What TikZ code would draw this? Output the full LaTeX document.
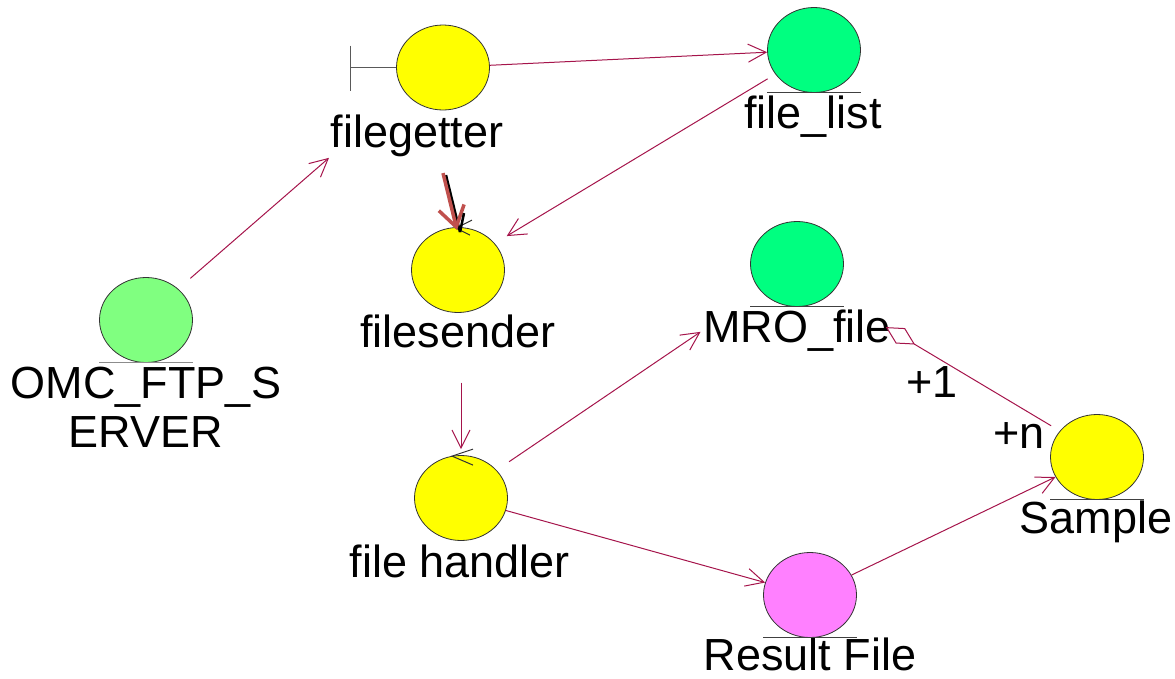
\documentclass[tikz,border=0pt]{standalone}
\usepackage{fontspec}
\setmainfont{Liberation Sans}
\usetikzlibrary{shapes.geometric,arrows.meta,calc}
\definecolor{conn}{RGB}{165,20,75}
\definecolor{yel}{RGB}{255,255,0}
\definecolor{ent}{RGB}{0,255,128}
\definecolor{srv}{RGB}{128,255,128}
\definecolor{res}{RGB}{255,128,255}
\definecolor{thick}{RGB}{192,80,77}
\tikzset{
  obj/.style={ellipse, draw=black!80, line width=0.8pt, minimum width=93pt, minimum height=85pt, inner sep=0pt},
  lbl/.style={anchor=base, inner sep=0pt, font=\fontsize{45}{49}\selectfont},
  arr/.style={draw=conn, line width=1pt, -{Straight Barb[length=18pt,width=18pt]}},
  uline/.style={draw=black!75, line width=1pt},
  ctrl/.style={draw=black!80, line width=1pt},
}
\begin{document}
\begin{tikzpicture}[x=1pt,y=-1pt]
\useasboundingbox (0,0) rectangle (1175,678);
% objects
\node[obj, fill=yel] (fg) at (443,67.5) {};
\node[obj, fill=ent] (fl) at (814,50) {};
\node[obj, fill=srv] (omc) at (146,320) {};
\node[obj, fill=yel] (fs) at (458,270) {};
\node[obj, fill=yel] (fh) at (461,498) {};
\node[obj, fill=ent] (mro) at (797,264) {};
\node[obj, fill=yel] (sa) at (1097,457) {};
\node[obj, fill=res] (rf) at (810,595) {};
% labels
\node[lbl] (fgl) at (417,147) {filegetter};
\node[lbl] (fll) at (813,128) {file\_list};
\node[lbl] (omcla) at (146,398) {OMC\_FTP\_S};
\node[lbl] (omclb) at (146,447) {ERVER};
\node[lbl] (fsl) at (458,347) {filesender};
\node[lbl] (fhl) at (460,577) {file handler};
\node[lbl] (mrol) at (797,342) {MRO\_file};
\node[lbl] (sal) at (1096,533) {Sample};
\node[lbl] (rfl) at (810,670) {Result File};
\node[lbl] (m1) at (932,397) {+1};
\node[lbl] (mn) at (1019,448) {+n};
% boundary icon
\draw[draw=black!65, line width=1pt] (fg.west) -- ++(-46,0) coordinate (bl);
\draw[draw=black!65, line width=1pt] ($(bl)+(0,-22)$) -- ($(bl)+(0,23)$);
% entity underlines
\foreach \n in {fl,mro,sa,rf}{
  \draw[uline] (\n.west |- \n.south) -- (\n.east |- \n.south);
}
\draw[draw=black!45, line width=1pt] (omc.west |- omc.south) -- (omc.east |- omc.south);
% control icons
\draw[ctrl] ($(fs.north)+(14,-7)$) -- ($(fs.north)+(-2,1)$) -- ($(fs.north)+(12,8)$);
\draw[ctrl] ($(fh.north)+(12,-6)$) -- ($(fh.north)+(-9,1)$) -- ($(fh.north)+(12,10)$);
% connectors
\draw[arr, shorten <=16pt, shorten >=2pt] (omc.44) -- (fgl.south west);
\draw[arr] (fg) -- (fl);
\draw[arr, shorten <=9pt, shorten >=14pt] (fl.212) -- (fs.36);
\coordinate (ts) at ($(fs.north)+(-15,-54)$);
\draw[draw=black, line width=2.5pt] ($(ts)+(3,2)$) -- ($(fs.north)+(2,5)$);
\draw[draw=thick, line width=3.5pt, -{Straight Barb[length=20pt,width=26pt]}] (ts) -- ($(fs.north)+(-1,3)$);
\draw[draw=black, line width=2.5pt] ($(fs.north)+(6,-14)$) -- ($(fs.north)+(2,5)$);
\draw[arr, shorten <=35pt, shorten >=6pt] (fh.north |- fsl.south) -- (fh.north);
\draw[arr, shorten <=15pt, shorten >=3pt] (fh.38) -- (mrol.west);
\draw[arr] (fh) -- (rf);
\draw[arr] (rf) -- (sa);
\draw[draw=conn, line width=1pt, shorten <=10pt, shorten >=-6pt, -{Diamond[open,length=34pt,width=18pt]}] (sa.145) -- (mrol.east);
\end{tikzpicture}
\end{document}
